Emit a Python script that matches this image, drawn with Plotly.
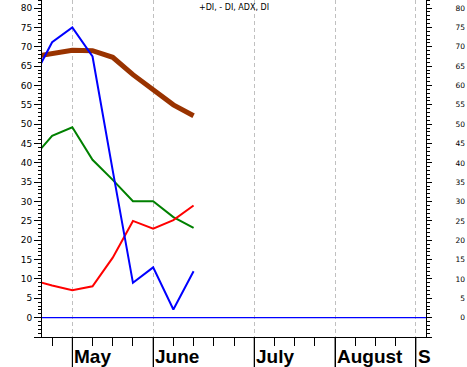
import plotly.graph_objects as go

# ---- data (week index: 0 = last week of April, weekly steps) ----
WEEK_INDEX = [-1, 0, 1, 2, 3, 4, 5, 6, 7]
PLUS_DI = [61.2, 71.2, 75.0, 67.5, 38.0, 9.0, 13.0, 2.1, 12.0]     # blue
MINUS_DI = [9.7, 8.3, 7.1, 8.1, 15.5, 25.0, 23.0, 25.2, 29.0]     # red
ADX = [67.4, 68.4, 69.1, 69.0, 67.3, 62.8, 58.9, 55.0, 52.2]      # brown
DI = [41.0, 47.0, 49.2, 40.8, 35.6, 30.1, 30.1, 26.0, 23.2]       # green

MONTH_TICKS = [1, 5, 10, 14, 18]
MONTH_LABELS = ["May", "June", "July", "August", "S"]
WEEK_TICKS = list(range(0, 19))

Y_TICKS = list(range(-5, 81, 5))
Y_TICKTEXT_LEFT = ["" if v < 0 else str(v) for v in Y_TICKS]
Y_TICKTEXT_RIGHT = ["" if v < 0 else ("\u2007" + str(v) if v < 10 else str(v)) for v in Y_TICKS]
ZERO_LEVEL = 0
TITLE = "+DI, - DI, ADX, DI"

X_RANGE = [-0.5, 18.5]
Y_RANGE = [-5, 82.1]

fig = go.Figure()
fig.add_trace(go.Scatter(x=WEEK_INDEX, y=ADX, mode="lines",
                         line=dict(color="#993300", width=5), name="ADX"))
fig.add_trace(go.Scatter(x=WEEK_INDEX, y=DI, mode="lines",
                         line=dict(color="#008000", width=2), name="DI"))
fig.add_trace(go.Scatter(x=WEEK_INDEX, y=MINUS_DI, mode="lines",
                         line=dict(color="#ff0000", width=2), name="-DI"))
fig.add_trace(go.Scatter(x=WEEK_INDEX, y=PLUS_DI, mode="lines",
                         line=dict(color="#0000ff", width=2), name="+DI"))
# invisible trace to anchor the right-hand axis
fig.add_trace(go.Scatter(x=[WEEK_INDEX[0]], y=[ZERO_LEVEL], yaxis="y2", mode="lines",
                         line=dict(width=0), showlegend=False, hoverinfo="skip"))

fig.add_shape(type="line", xref="paper", x0=0, x1=1, yref="y", y0=ZERO_LEVEL, y1=ZERO_LEVEL,
              line=dict(color="#0000ff", width=1.3))

# month separator lines extending below the axis
for m in MONTH_TICKS:
    fig.add_shape(type="line", xref="x", x0=m, x1=m, yref="paper", y0=0, y1=-0.1,
                  line=dict(color="black", width=1))

for m, lab in zip(MONTH_TICKS, MONTH_LABELS):
    fig.add_annotation(x=m, xref="x", y=0, yref="paper", text=lab, showarrow=False,
                       xanchor="left", yanchor="top", xshift=0, yshift=-7,
                       font=dict(family="Liberation Sans, Arial", size=19, color="black", weight="bold"))

fig.add_annotation(x=0.5, xref="paper", y=1, yref="paper", text=TITLE, showarrow=False,
                   xanchor="center", yanchor="middle", yshift=-7.5,
                   font=dict(family="DejaVu Sans", size=8, color="black"))

fig.update_layout(
    width=467, height=367,
    margin=dict(l=42, r=41, t=0, b=29.5, autoexpand=False),
    paper_bgcolor="white", plot_bgcolor="white",
    showlegend=False,
    xaxis=dict(range=X_RANGE, tickmode="array", tickvals=MONTH_TICKS, showticklabels=False,
               automargin=False,
               ticks="outside", ticklen=30, tickcolor="black", tickwidth=1,
               showgrid=True, gridcolor="#c0c0c0", griddash="4px,3px", gridwidth=1,
               showline=True, linecolor="black", linewidth=1, zeroline=False,
               minor=dict(tickmode="array", tickvals=WEEK_TICKS, ticks="outside", ticklen=8,
                          tickcolor="black", showgrid=False)),
    yaxis=dict(range=Y_RANGE, tickmode="array", tickvals=Y_TICKS, ticktext=Y_TICKTEXT_LEFT,
               automargin=False,
               ticks="outside", ticklen=7, tickcolor="black", showgrid=False, zeroline=False,
               showline=True, linecolor="black", linewidth=1,
               tickfont=dict(family="DejaVu Sans", size=9, color="black"),
               minor=dict(dtick=1, ticks="outside", ticklen=3, tickcolor="black", showgrid=False)),
    yaxis2=dict(range=Y_RANGE, overlaying="y", side="right", tickmode="array",
                tickvals=Y_TICKS, ticktext=Y_TICKTEXT_RIGHT, automargin=False,
                ticks="outside", ticklen=5, tickcolor="black", showgrid=False, zeroline=False,
                showline=True, linecolor="black", linewidth=1, ticklabelstandoff=22,
                tickfont=dict(family="DejaVu Sans", size=7.5, color="black"),
                minor=dict(dtick=1, ticks="outside", ticklen=3, tickcolor="black", showgrid=False)),
)

fig.write_html("out.html", config={"displayModeBar": False},
               post_script="document.body.style.margin='0';document.body.style.padding='0';")
